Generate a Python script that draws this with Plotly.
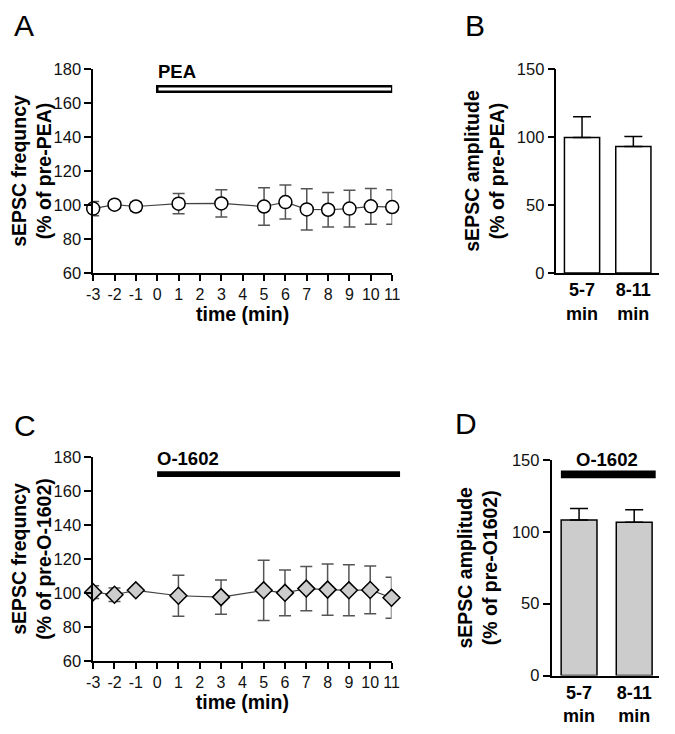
import plotly.graph_objects as go

# time points (min) relative to drug application
time_min = [-3, -2, -1, 1, 3, 5, 6, 7, 8, 9, 10, 11]
time_ticks = [-3, -2, -1, 0, 1, 2, 3, 4, 5, 6, 7, 8, 9, 10, 11]
time_ticktext = ['-3', '-2', '-1', '0', '1', '2', '3', '4', '5', '6', '7', '8', '9', '10', '11']

# panel A: sEPSC frequency, PEA (% of pre-PEA)
freq_pea_mean = [97.9, 100.2, 99.1, 100.8, 100.9, 99.1, 101.7, 97.4, 97.2, 97.9, 99.2, 98.8]
freq_pea_sem = [4.2, 2.0, 2.5, 6.0, 8.0, 11.0, 10.0, 12.1, 10.1, 10.8, 10.5, 10.2]

# panel C: sEPSC frequency, O-1602 (% of pre-O-1602)
freq_o1602_mean = [100.5, 99.0, 101.6, 98.4, 97.6, 101.6, 100.1, 102.6, 102.0, 101.6, 101.8, 97.2]
freq_o1602_sem = [3.7, 4.0, 1.0, 12.1, 10.1, 17.7, 13.4, 13.0, 15.0, 15.0, 14.0, 12.0]

# panels B / D: sEPSC amplitude per time window
windows = ['<b>5-7</b><br><b>min</b>', '<b>8-11</b><br><b>min</b>']
amp_pea_mean = [99.7, 93.0]
amp_pea_sem = [15.1, 7.4]
amp_o1602_mean = [108.2, 106.7]
amp_o1602_sem = [8.1, 8.7]

# drug application periods (min)
pea_period = [0, 11]
o1602_period = [0, 11.4]

FONT = 'Liberation Sans, Arial, sans-serif'
W, H = 659, 718   # page adds 8px body margin on each side


def px(x):
    return (x - 8) / W


def py(y):
    return 1 - (y - 8) / H


xdom_a = [px(88), px(394)]
xdom_c = [px(88), px(393.3)]

fig = go.Figure()

# ---- A
fig.add_trace(go.Scatter(
    x=time_min, y=freq_pea_mean, mode='lines+markers',
    line=dict(color='#444444', width=1.2),
    marker=dict(symbol='circle', size=13, color='white', line=dict(color='black', width=1.5)),
    error_y=dict(type='data', array=freq_pea_sem, color='#555555', thickness=1.5, width=6),
    cliponaxis=False, xaxis='x', yaxis='y', showlegend=False))

# ---- C
fig.add_trace(go.Scatter(
    x=time_min, y=freq_o1602_mean, mode='lines+markers',
    line=dict(color='#444444', width=1.2),
    marker=dict(symbol='diamond', size=13, color='#cccccc', line=dict(color='black', width=1.5)),
    error_y=dict(type='data', array=freq_o1602_sem, color='#555555', thickness=1.5, width=6),
    cliponaxis=False, xaxis='x3', yaxis='y3', showlegend=False))

# ---- B
fig.add_trace(go.Bar(
    x=[0, 1], y=amp_pea_mean, width=0.686,
    marker=dict(color='white', line=dict(color='black', width=1.5)),
    error_y=dict(type='data', array=amp_pea_sem, arrayminus=[0, 0], symmetric=False,
                 color='black', thickness=1.5, width=9),
    xaxis='x2', yaxis='y2', showlegend=False))

# ---- D
fig.add_trace(go.Bar(
    x=[0, 1], y=amp_o1602_mean, width=0.65,
    marker=dict(color='#cccccc', line=dict(color='black', width=1.5)),
    error_y=dict(type='data', array=amp_o1602_sem, arrayminus=[0, 0], symmetric=False,
                 color='black', thickness=1.5, width=9),
    xaxis='x4', yaxis='y4', showlegend=False))

tickfont = dict(family=FONT, size=16.5, color='#111111')
titlefont = dict(family=FONT, size=19.5, color='black')
LINE = dict(showline=True, linecolor='black', linewidth=1.5, showgrid=False, zeroline=False)


def time_axis(domain, anchor):
    return dict(domain=domain, anchor=anchor, range=[-3, 11], tickvals=time_ticks,
                ticktext=time_ticktext, ticks='outside', ticklen=6, tickwidth=1.5,
                tickcolor='black', tickfont=dict(family=FONT, size=16, color='#111111'),
                title=dict(text='<b>time (min)</b>', font=titlefont, standoff=2), **LINE)


def freq_axis(domain, anchor, title):
    return dict(domain=domain, anchor=anchor, range=[60, 180], dtick=20,
                ticks='outside', ticklen=7, tickwidth=1.5, tickcolor='black',
                tickfont=tickfont, title=dict(text=title, font=titlefont, standoff=5), **LINE)


def cat_axis(domain, anchor, rng):
    return dict(domain=domain, anchor=anchor, range=rng, tickvals=[0, 1],
                ticktext=windows, ticks='', tickfont=dict(family=FONT, size=18, color='black'),
                **LINE)


def amp_axis(domain, anchor, title, standoff):
    return dict(domain=domain, anchor=anchor, range=[0, 150], dtick=50,
                ticks='outside', ticklen=7, tickwidth=1.5, tickcolor='black',
                tickfont=tickfont, title=dict(text=title, font=titlefont, standoff=standoff),
                **LINE)


fig.update_layout(
    width=W, height=H, margin=dict(l=0, r=0, t=0, b=0),
    plot_bgcolor='white', paper_bgcolor='white',
    xaxis=time_axis(xdom_a, 'y'),
    yaxis=freq_axis([py(274), py(62)], 'x', '<b>sEPSC frequncy</b><br><b>(% of pre-PEA)</b>'),
    xaxis2=cat_axis([px(562), 1.0], 'y2', [-0.5, 1.5]),
    yaxis2=amp_axis([py(274), py(62)], 'x2', '<b>sEPSC amplitude</b><br><b>(% of pre-PEA)</b>', 7),
    xaxis3=time_axis(xdom_c, 'y3'),
    yaxis3=freq_axis([py(677.3), py(465)], 'x3', '<b>sEPSC frequncy</b><br><b>(% of pre-O-1602)</b>'),
    xaxis4=cat_axis([px(557), 1.0], 'y4', [-0.5, 1.45]),
    yaxis4=amp_axis([py(692.3), py(468.3)], 'x4', '<b>sEPSC amplitude</b><br><b>(% of pre-O1602)</b>', 9),
)


def tpaper(t, dom):
    # time value -> paper x for a time axis spanning [-3, 11]
    return dom[0] + (t + 3) / 14 * (dom[1] - dom[0])


# drug application bars
fig.add_shape(type='rect', xref='x', yref='y', x0=pea_period[0], x1=pea_period[1],
              y0=166.6, y1=169.8, fillcolor='white', line=dict(color='black', width=2.5))
fig.add_shape(type='rect', xref='paper', yref='y3', x0=tpaper(o1602_period[0], xdom_c),
              x1=tpaper(o1602_period[1], xdom_c), y0=168.1, y1=171.5,
              fillcolor='black', line=dict(width=0))
fig.add_shape(type='rect', xref='x4', yref='y4', x0=-0.33, x1=1.39,
              y0=137.3, y1=142.7, fillcolor='black', line=dict(width=0))

fig.add_annotation(x=0.05, y=178.5, xref='x', yref='y', text='<b>PEA</b>', showarrow=False,
                   xanchor='left', xshift=-2, font=dict(family=FONT, size=18.5, color='black'))
fig.add_annotation(x=0, y=179, xref='x3', yref='y3', text='<b>O-1602</b>', showarrow=False,
                   xanchor='left', xshift=-2, font=dict(family=FONT, size=18.5, color='black'))
fig.add_annotation(x=0.5, y=149, xref='x4', yref='y4', yshift=2, text='<b>O-1602</b>',
                   showarrow=False, font=dict(family=FONT, size=18.5, color='black'))

# panel letters
for letter, lx, ly in [('A', 8, 17), ('B', 470, 17), ('C', 8, 432), ('D', 459, 430)]:
    fig.add_annotation(x=px(lx), y=py(ly), xref='paper', yref='paper', text=letter,
                       showarrow=False, xanchor='left', yanchor='middle', xshift=-3,
                       font=dict(family=FONT, size=30, color='black'))

fig.write_html('out.html')
